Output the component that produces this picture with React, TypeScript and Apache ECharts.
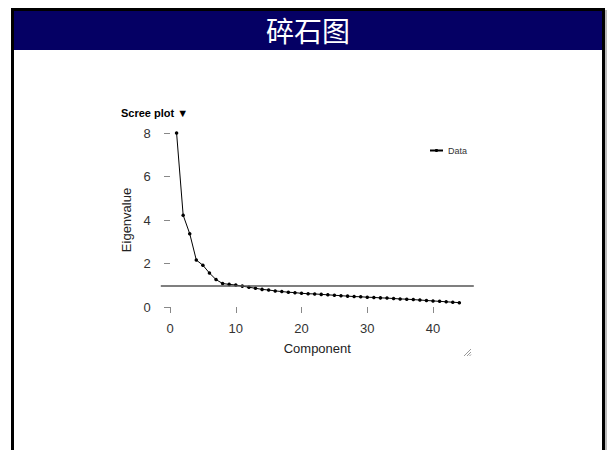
import React, { useEffect, useRef } from "react";
import * as echarts from "echarts";

const components: number[] = Array.from({ length: 44 }, (_, i) => i + 1);
const eigenvalues: number[] = [
  8.0, 4.22, 3.37, 2.16, 1.92, 1.56, 1.26, 1.08, 1.04, 1.01,
  0.96, 0.91, 0.86, 0.81, 0.78, 0.74, 0.71, 0.68, 0.66, 0.63,
  0.61, 0.6, 0.58, 0.56, 0.54, 0.52, 0.5, 0.48, 0.47, 0.45,
  0.44, 0.42, 0.41, 0.39, 0.37, 0.36, 0.34, 0.32, 0.3, 0.28,
  0.26, 0.24, 0.22, 0.2,
];
const xTicks: number[] = [0, 10, 20, 30, 40];
const yTicks: number[] = [0, 2, 4, 6, 8];
const referenceLine = 1;
const pageTitle = "碎石图";
const chartTitle = "Scree plot ▼";
const seriesName = "Data";

const FONT = "'Liberation Sans', Arial, sans-serif";

export default function App() {
  const ref = useRef<HTMLDivElement>(null);
  useEffect(() => {
    if (!ref.current) return;
    const chart = echarts.init(ref.current, undefined, { renderer: "svg" });
    const data = components.map((c, i) => [c, eigenvalues[i]]);
    chart.setOption({
      animation: false,
      backgroundColor: "#ffffff",
      textStyle: { fontFamily: FONT },
      title: {
        text: chartTitle,
        left: 116,
        top: 102,
        textStyle: { fontSize: 11, fontWeight: "bold", color: "#000", fontFamily: FONT },
      },
      legend: {
        data: [seriesName],
        left: 424,
        top: 141,
        itemWidth: 13,
        itemHeight: 4,
        itemGap: 4,
        textStyle: { fontSize: 9, color: "#333", fontFamily: FONT },
      },
      grid: { left: 160.8, right: 133.2, top: 133, bottom: 143 },
      xAxis: {
        type: "value",
        min: -1.4,
        max: 46.2,
        offset: 5,
        name: "Component",
        nameLocation: "middle",
        nameGap: 30,
        nameTextStyle: { fontSize: 13, color: "#222", fontFamily: FONT },
        axisLine: { show: false },
        axisTick: { show: true, length: 6, customValues: xTicks, lineStyle: { color: "#888" } },
        axisLabel: { customValues: xTicks, fontSize: 13, color: "#333", margin: 10, fontFamily: FONT },
        splitLine: { show: false },
      },
      yAxis: {
        type: "value",
        min: 0,
        max: 8,
        name: "Eigenvalue",
        nameLocation: "middle",
        nameGap: 20,
        nameTextStyle: { fontSize: 13, color: "#222", fontFamily: FONT },
        axisLine: { show: false },
        axisTick: { show: true, length: 6, customValues: yTicks, lineStyle: { color: "#888" } },
        axisLabel: { customValues: yTicks, fontSize: 13, color: "#333", margin: 10, fontFamily: FONT },
        splitLine: { show: false },
      },
      series: [
        {
          name: seriesName,
          type: "line",
          data,
          clip: false,
          symbol: "circle",
          symbolSize: 3.5,
          showSymbol: true,
          itemStyle: { color: "#000" },
          lineStyle: { color: "#000", width: 1 },
          markLine: {
            silent: true,
            symbol: "none",
            label: { show: false },
            lineStyle: { color: "#555", width: 1.5, type: "solid" },
            data: [{ yAxis: referenceLine }],
          },
        },
      ],
      graphic: [
        { type: "rect", shape: { x: 11, y: 8, width: 3, height: 442 }, style: { fill: "#000" }, silent: true },
        { type: "rect", shape: { x: 11, y: 8, width: 594, height: 3 }, style: { fill: "#000" }, silent: true },
        { type: "rect", shape: { x: 602, y: 8, width: 3, height: 442 }, style: { fill: "#000" }, silent: true },
        { type: "rect", shape: { x: 605, y: 10, width: 2, height: 440 }, style: { fill: "#bbbbbb" }, silent: true },
        { type: "rect", shape: { x: 14, y: 11, width: 588, height: 39 }, style: { fill: "#050064" }, silent: true },
        {
          type: "text",
          x: 308,
          y: 16,
          style: {
            text: pageTitle,
            fill: "#ffffff",
            fontSize: 28,
            textAlign: "center",
            fontFamily: "'Noto Sans CJK SC', sans-serif",
          },
          silent: true,
        },
        { type: "line", shape: { x1: 464, y1: 356, x2: 471, y2: 349 }, style: { stroke: "#999", lineWidth: 1 }, silent: true },
        { type: "line", shape: { x1: 467, y1: 356, x2: 471, y2: 352 }, style: { stroke: "#999", lineWidth: 1 }, silent: true },
        { type: "line", shape: { x1: 469.5, y1: 356, x2: 471, y2: 354.5 }, style: { stroke: "#999", lineWidth: 1 }, silent: true },
      ],
    });
    return () => chart.dispose();
  }, []);
  return (
    <div
      ref={ref}
      style={{ position: "fixed", left: 0, top: 0, width: 607, height: 450 }}
    />
  );
}
